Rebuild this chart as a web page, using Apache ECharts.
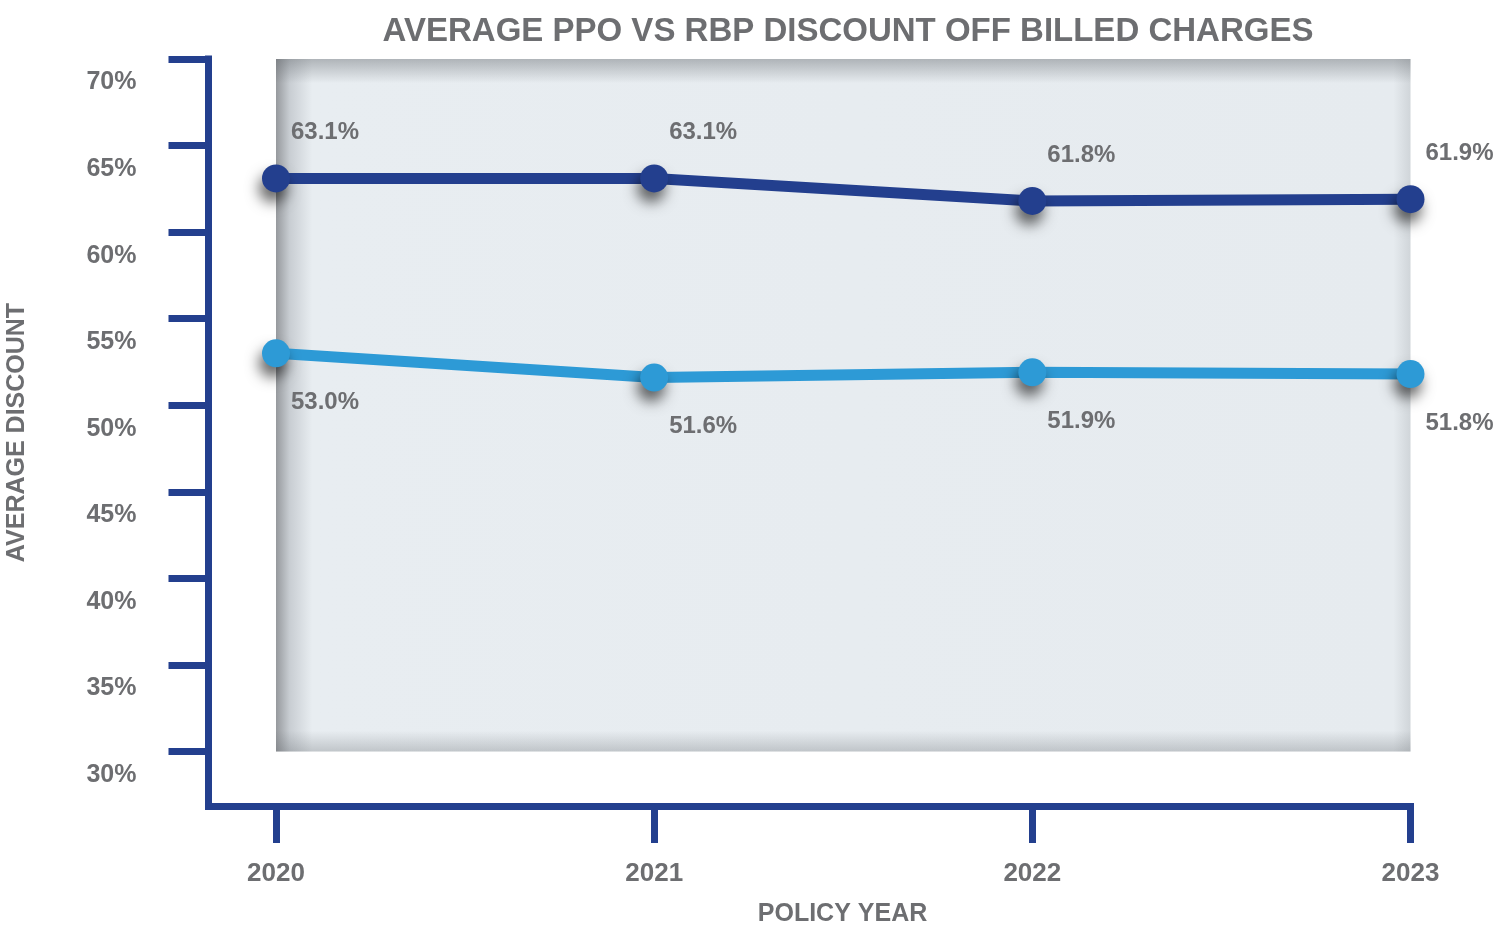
<!DOCTYPE html>
<html>
<head>
<meta charset="utf-8">
<title>Average PPO vs RBP Discount</title>
<script src="https://cdn.jsdelivr.net/npm/echarts@6/dist/echarts.min.js"></script>
<style>
  html, body { margin: 0; padding: 0; background: #fff; }
  #chart { width: 1507px; height: 929px; }
</style>
</head>
<body>
<div id="chart"></div>
<script>
// data
const years = [2020, 2021, 2022, 2023]
const ppoValues = [63.1, 63.1, 61.8, 61.9]
const rbpValues = [53.0, 51.6, 51.9, 51.8]
const yTicks = [30, 35, 40, 45, 50, 55, 60, 65, 70]

const navy = '#233f8e'
const sky = '#2d9ad6'
const grey = '#6d6e71'
const font = 'Liberation Sans'

const chart = echarts.init(document.getElementById('chart'))

function toPoints(values) {
  return years.map((y, i) => [y, values[i]])
}

function lineSeries(name, values, color, above) {
  return {
    name,
    type: 'line',
    data: toPoints(values),
    symbol: 'circle',
    symbolSize: 28,
    lineStyle: { color, width: 11 },
    itemStyle: {
      color,
      shadowBlur: 14,
      shadowColor: 'rgba(0,0,0,0.6)',
      shadowOffsetX: -3,
      shadowOffsetY: 10
    },
    label: {
      show: true,
      position: above ? 'top' : 'bottom',
      distance: above ? 20 : 23,
      offset: [49, 0],
      color: grey,
      fontFamily: font,
      fontWeight: 'bold',
      fontSize: 24,
      formatter: p => p.value[1].toFixed(1) + '%'
    },
    z: 3
  }
}

chart.setOption({
  animation: false,
  backgroundColor: '#fff',
  title: {
    text: 'AVERAGE PPO VS RBP DISCOUNT OFF BILLED CHARGES',
    left: 843,
    top: 10,
    textAlign: 'center',
    textStyle: { color: grey, fontFamily: font, fontWeight: 'bold', fontSize: 33 }
  },
  grid: { left: 208.5, right: 96.5, top: 59, bottom: 123, outerBoundsMode: 'none' },
  xAxis: {
    type: 'value',
    min: 2019.8215,
    max: 2023,
    name: 'POLICY YEAR',
    nameLocation: 'middle',
    nameGap: 96,
    nameTextStyle: {
      color: grey, fontFamily: font, fontWeight: 'bold', fontSize: 25,
      padding: [0, 0, 0, 66]
    },
    axisLine: { show: true, lineStyle: { color: navy, width: 7, cap: 'square' } },
    axisTick: { show: true, customValues: years, length: 37, lineStyle: { color: navy, width: 7 } },
    axisLabel: {
      customValues: years,
      margin: 55,
      color: grey,
      fontFamily: font,
      fontWeight: 'bold',
      fontSize: 26,
      formatter: v => String(v)
    },
    splitLine: { show: false }
  },
  yAxis: {
    type: 'value',
    min: 26.85,
    max: 70,
    name: 'AVERAGE DISCOUNT',
    nameLocation: 'middle',
    nameGap: 179,
    nameTextStyle: { color: grey, fontFamily: font, fontWeight: 'bold', fontSize: 25 },
    axisLine: { show: true, lineStyle: { color: navy, width: 7, cap: 'square' } },
    axisTick: { show: true, customValues: yTicks, length: 40, lineStyle: { color: navy, width: 7 } },
    axisLabel: {
      customValues: yTicks,
      margin: 72,
      color: grey,
      fontFamily: font,
      fontWeight: 'bold',
      fontSize: 25,
      verticalAlign: 'top',
      lineHeight: 47,
      formatter: v => v + '%'
    },
    splitLine: { show: false }
  },
  series: [
    {
      name: 'plot area',
      type: 'line',
      data: [],
      silent: true,
      markArea: {
        silent: true,
        label: { show: false },
        data: [
          [
            {
              coord: [years[0], yTicks[0]],
              itemStyle: {
                color: new echarts.graphic.LinearGradient(0, 0, 1, 0, [
                  { offset: 0, color: '#96999d' },
                  { offset: 0.012, color: '#c8cdd2' },
                  { offset: 0.032, color: '#e8edf1' },
                  { offset: 0.985, color: '#e6ebef' },
                  { offset: 1, color: '#d0d5d9' }
                ])
              }
            },
            { coord: [years[years.length - 1], yTicks[yTicks.length - 1]] }
          ],
          [
            {
              coord: [years[0], yTicks[0]],
              itemStyle: {
                color: new echarts.graphic.LinearGradient(0, 0, 0, 1, [
                  { offset: 0, color: 'rgba(90,95,100,0.4)' },
                  { offset: 0.035, color: 'rgba(90,95,100,0)' },
                  { offset: 0.97, color: 'rgba(90,95,100,0)' },
                  { offset: 1, color: 'rgba(90,95,100,0.28)' }
                ])
              }
            },
            { coord: [years[years.length - 1], yTicks[yTicks.length - 1]] }
          ]
        ]
      },
      z: 1
    },
    lineSeries('PPO', ppoValues, navy, true),
    lineSeries('RBP', rbpValues, sky, false)
  ]
})
</script>
</body>
</html>
